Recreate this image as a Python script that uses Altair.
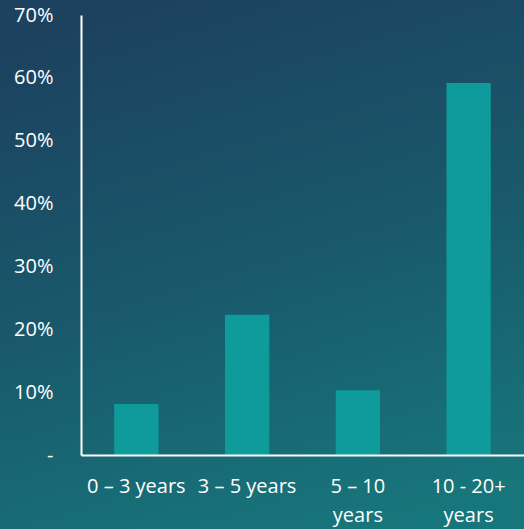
import altair as alt
import pandas as pd

categories = ["0 – 3 years", "3 – 5 years", "5 – 10 years", "10 - 20+ years"]
shares = [0.081, 0.223, 0.103, 0.592]
y_ticks = [0, 0.1, 0.2, 0.3, 0.4, 0.5, 0.6, 0.7]

df = pd.DataFrame({"period": categories, "share": shares})

W, H = 443, 440
PAD_L, PAD_T, PAD_B = 81, 15, 74

grad = alt.LinearGradient(
    gradient="linear",
    stops=[
        alt.GradientStop(color="#1c4260", offset=0),
        alt.GradientStop(color="#19596b", offset=0.5),
        alt.GradientStop(color="#17767b", offset=1),
    ],
    x1=0.35, y1=0, x2=0.65, y2=1,
)

bg = alt.Chart(alt.Data(values=[{}])).mark_rect(color=grad, clip=False).encode(
    x=alt.value(-PAD_L), x2=alt.value(W + 5),
    y=alt.value(-PAD_T), y2=alt.value(H + PAD_B + 5),
)

label_expr = (
    "datum.label == '5 – 10 years' ? ['5 – 10', 'years'] : "
    "datum.label == '10 - 20+ years' ? ['10 - 20+', 'years'] : datum.label"
)

bars = alt.Chart(df).mark_bar(color="#0f9b9b").encode(
    x=alt.X(
        "period:N", sort=categories, title=None,
        scale=alt.Scale(paddingInner=0.6, paddingOuter=0.3),
        axis=alt.Axis(
            labelExpr=label_expr, labelAngle=0, ticks=False, labelPadding=21,
            labelBaseline="top", labelLineHeight=29, domainColor="white",
            domainWidth=2, labelColor="white", labelFontSize=20,
            labelFont="Open Sans", zindex=1, labelLimit=200,
        ),
    ),
    y=alt.Y(
        "share:Q", title=None,
        scale=alt.Scale(domain=[0, 0.7], nice=False),
        axis=alt.Axis(
            values=y_ticks, grid=False, ticks=False,
            labelExpr="datum.value == 0 ? '-\u00a0\u00a0\u00a0\u00a0' : format(datum.value, '.0%')",
            labelPadding=28, domainColor="white", domainWidth=2,
            labelColor="white", labelFontSize=20, labelFont="Open Sans",
            zindex=1,
        ),
    ),
)

chart = alt.layer(bg, bars).properties(
    width=W, height=H,
    autosize=alt.AutoSizeParams(type="none"),
    padding={"left": PAD_L, "top": PAD_T, "right": 0, "bottom": PAD_B},
    background="#1c4260",
).configure_view(stroke=None)

chart.save("out.html", embed_options={"renderer": "svg", "actions": False})
